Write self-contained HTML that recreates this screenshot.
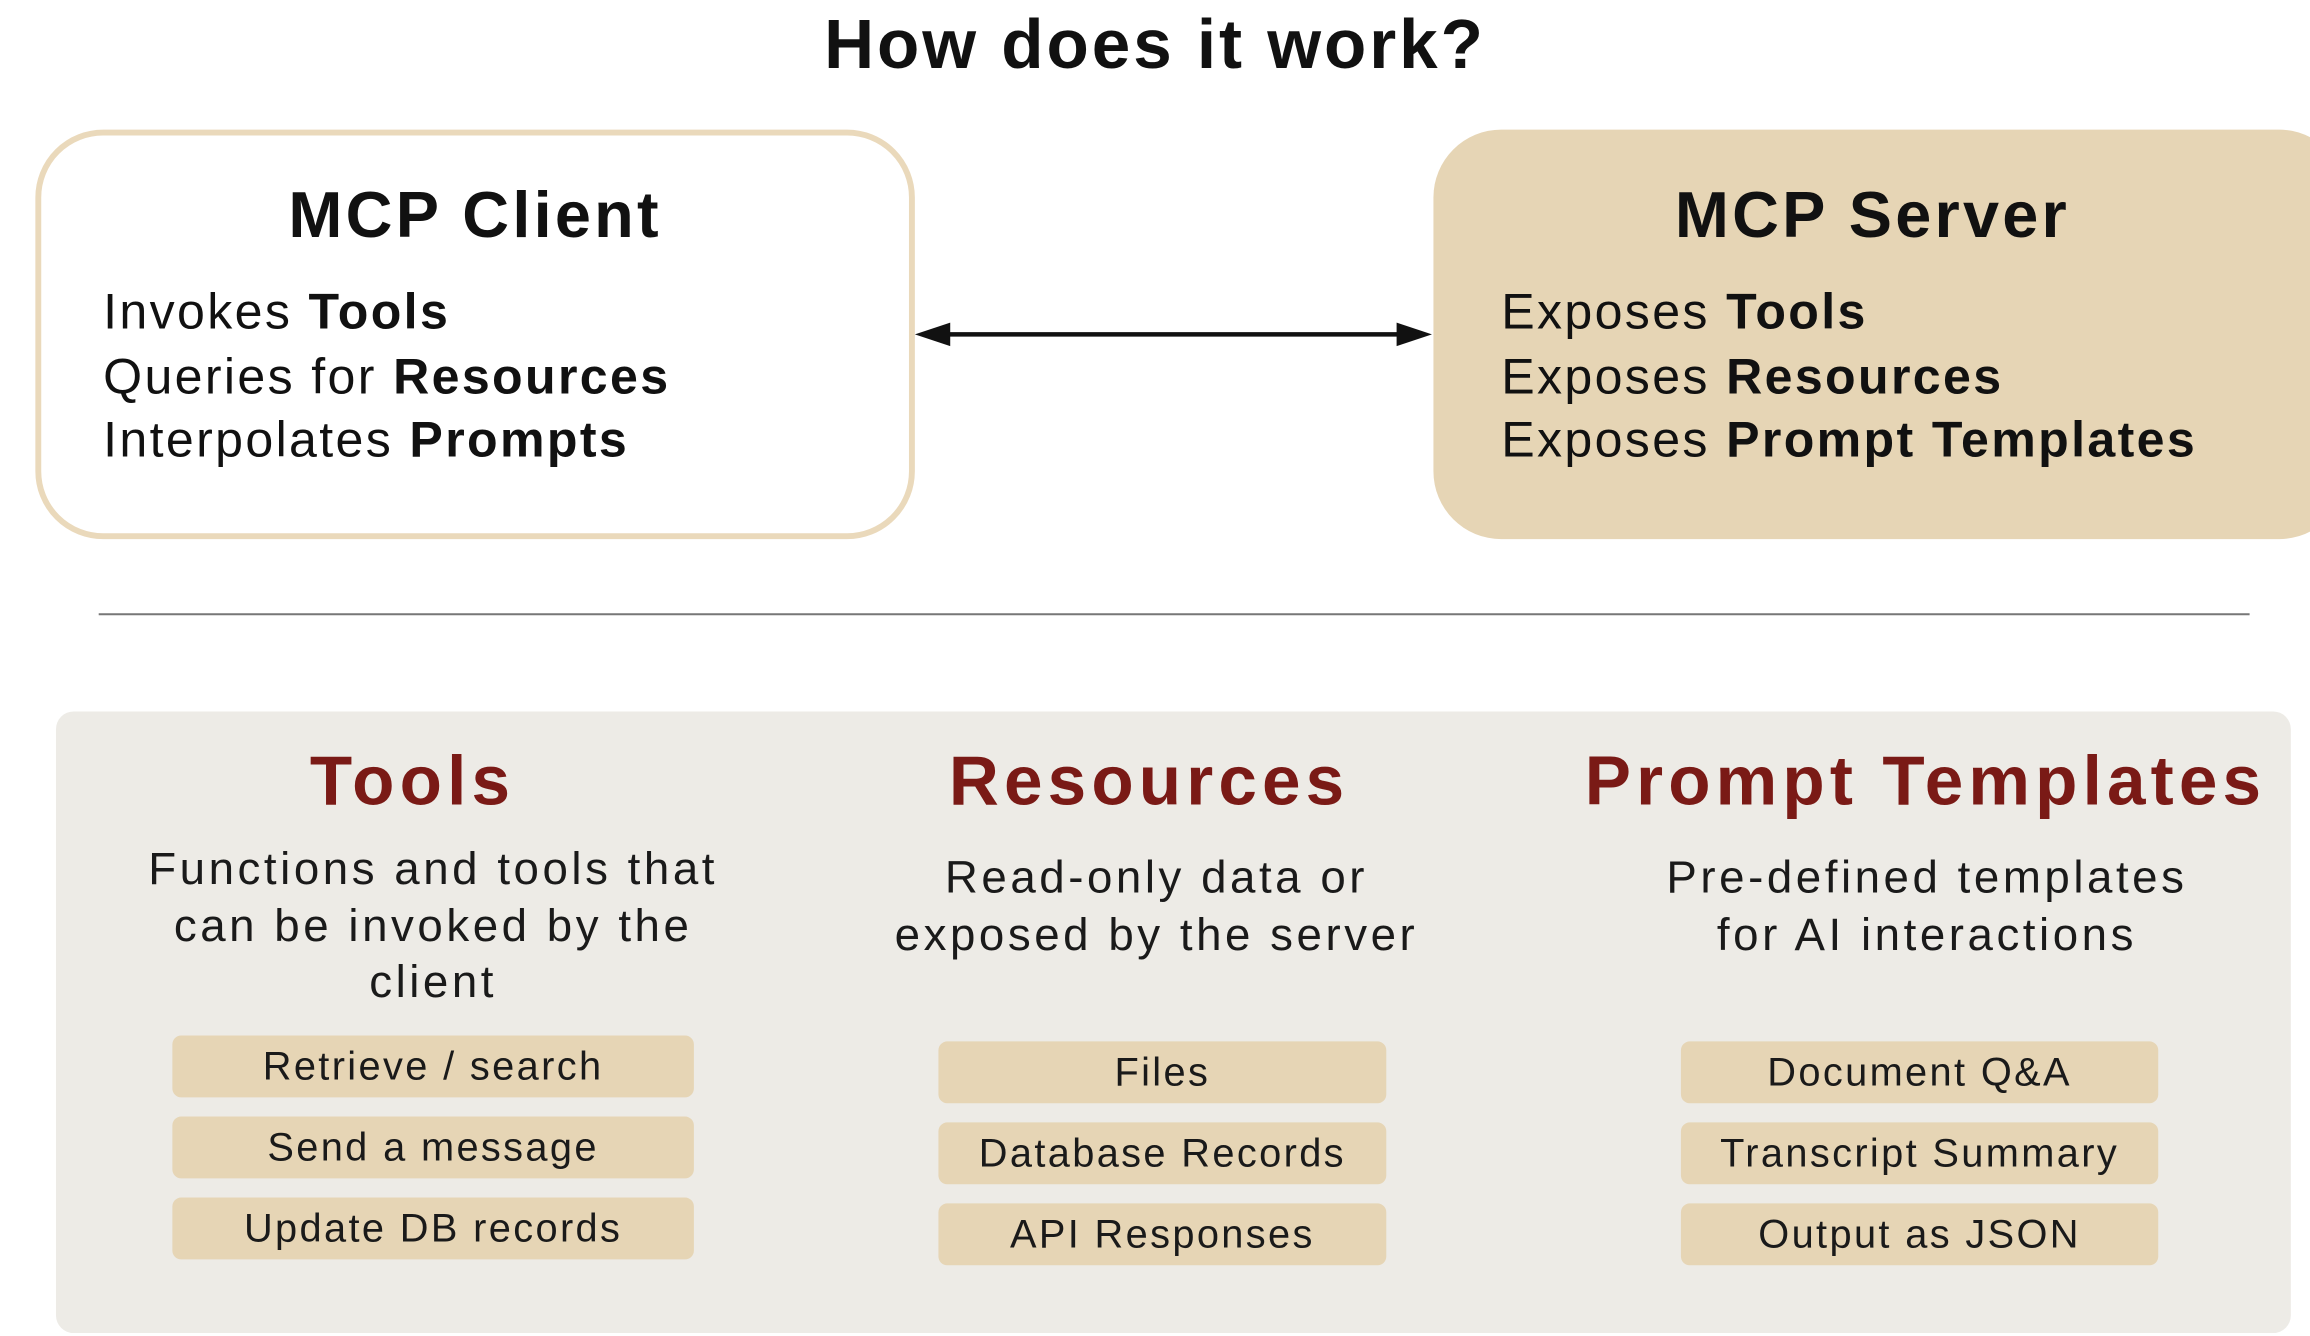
<!DOCTYPE html>
<html><head><meta charset="utf-8"><style>
html,body{margin:0;padding:0;background:#fff;width:2310px;height:1336px;overflow:hidden}
#s{position:absolute;left:0;top:0;width:1568px;height:907px;transform-origin:0 0;transform:scale(1.47321,1.47299);font-family:"Liberation Sans",sans-serif;color:#111}
.a{position:absolute}
.c{position:absolute;text-align:center;white-space:nowrap}
.t{font-size:47px;font-weight:bold;left:0;width:1568px;top:2px;letter-spacing:2px}
.box{position:absolute;top:88px;height:278px;border-radius:46px;box-sizing:border-box}
.h{font-size:44px;font-weight:bold;letter-spacing:2.2px}
.ln{position:absolute;font-size:34px;line-height:43.5px;white-space:nowrap;letter-spacing:1.6px}
.red{color:#7a1a16;font-size:47px;font-weight:bold;letter-spacing:3.5px}
.d{font-size:31px;line-height:38.5px;color:#1a1a1a;letter-spacing:2.4px}
.p{position:absolute;height:42px;background:#e6d5b5;border-radius:6px;font-size:27px;line-height:42px;text-align:center;color:#1a1a1a;letter-spacing:1.6px}
</style></head><body><div id="s">
<div class="c t">How does it work?</div>
<div class="box" style="left:24px;width:597px;border:4px solid #ead9bb;background:#fff"></div>
<div class="c h" style="left:24px;width:597px;top:122px">MCP Client</div>
<div class="ln" style="left:70px;top:191px">Invokes <b>Tools</b><br>Queries for <b>Resources</b><br>Interpolates <b>Prompts</b></div>
<div class="box" style="left:973px;width:620px;background:#e6d5b5"></div>
<div class="c h" style="left:973px;width:596px;top:122px">MCP Server</div>
<div class="ln" style="left:1019px;top:191px">Exposes <b>Tools</b><br>Exposes <b>Resources</b><br>Exposes <b>Prompt Templates</b></div>
<svg class="a" style="left:0;top:0" width="1568" height="907">
<line x1="635" y1="227" x2="958" y2="227" stroke="#111" stroke-width="3"/>
<polygon points="621,227 645,219 645,235" fill="#111"/>
<polygon points="972,227 948,219 948,235" fill="#111"/>
<line x1="67" y1="417" x2="1527" y2="417" stroke="#777" stroke-width="1.3"/>
</svg>
<div class="a" style="left:38px;top:483px;width:1517px;height:422px;background:#edebe6;border-radius:12px"></div>
<div class="c red" style="left:80px;width:400px;top:502px">Tools</div>
<div class="c red" style="left:580px;width:400px;top:502px">Resources</div>
<div class="c red" style="left:1057px;width:500px;top:502px">Prompt Templates</div>
<div class="c d" style="left:94px;width:400px;top:571px">Functions and tools that<br>can be invoked by the<br>client</div>
<div class="c d" style="left:585px;width:400px;top:577px">Read-only data or<br>exposed by the server</div>
<div class="c d" style="left:1108px;width:400px;top:577px">Pre-defined templates<br>for AI interactions</div>
<div class="p" style="left:117px;width:354px;top:703px">Retrieve / search</div>
<div class="p" style="left:117px;width:354px;top:758px">Send a message</div>
<div class="p" style="left:117px;width:354px;top:813px">Update DB records</div>
<div class="p" style="left:637px;width:304px;top:707px">Files</div>
<div class="p" style="left:637px;width:304px;top:762px">Database Records</div>
<div class="p" style="left:637px;width:304px;top:817px">API Responses</div>
<div class="p" style="left:1141px;width:324px;top:707px">Document Q&amp;A</div>
<div class="p" style="left:1141px;width:324px;top:762px">Transcript Summary</div>
<div class="p" style="left:1141px;width:324px;top:817px">Output as JSON</div>
</div></body></html>
